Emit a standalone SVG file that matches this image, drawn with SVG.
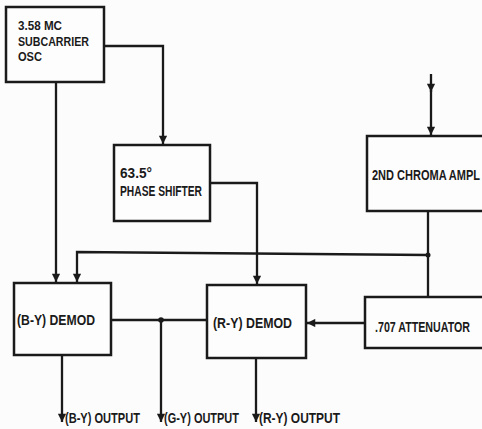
<svg xmlns="http://www.w3.org/2000/svg" width="482" height="429" viewBox="0 0 482 429">
<style>
.box{fill:#fdfdfd;stroke:#1a1a1a;stroke-width:2.5}
.ln{fill:none;stroke:#1a1a1a;stroke-width:2.3}
.t{font-family:"Liberation Sans Narrow","Liberation Sans",Arial,sans-serif;font-weight:bold;font-size:14px;fill:#1a1a1a}
.s{font-size:12.5px}
</style>
<defs>
<marker id="ah" viewBox="0 0 10 10" refX="10" refY="5" markerWidth="3.8" markerHeight="3.6" orient="auto" markerUnits="strokeWidth">
<path d="M0,0 L10,5 L0,10 z" fill="#1a1a1a"/>
</marker>
</defs>
<rect width="482" height="429" fill="#fcfcfc"/>
<g id="connectors">
<path class="ln" d="M104,46 H163 V144" marker-end="url(#ah)"/>
<path class="ln" d="M56,82 V282" marker-end="url(#ah)"/>
<path class="ln" d="M210,183 H257 V284" marker-end="url(#ah)"/>
<path class="ln" d="M428,211 V297"/>
<path class="ln" d="M428,255 L77,252 V282" marker-end="url(#ah)"/>
<circle cx="428" cy="255" r="2.5" fill="#1a1a1a"/>
<path class="ln" d="M431,74 V92" marker-end="url(#ah)"/>
<path class="ln" d="M431,90 V135" marker-end="url(#ah)"/>
<path class="ln" d="M365,323 H307" marker-end="url(#ah)"/>
<path class="ln" d="M111,320 H207"/>
<circle cx="161" cy="320" r="2.8" fill="#1a1a1a"/>
<path class="ln" d="M62,355 V422" marker-end="url(#ah)"/>
<path class="ln" d="M161,320 V422" marker-end="url(#ah)"/>
<path class="ln" d="M256,358 V422" marker-end="url(#ah)"/>
</g>
<g id="osc">
<rect class="box" x="6" y="7" width="98" height="75"/>
<text class="t s" x="18" y="30" textLength="44" lengthAdjust="spacingAndGlyphs">3.58 MC</text>
<text class="t s" x="18" y="46" textLength="71" lengthAdjust="spacingAndGlyphs">SUBCARRIER</text>
<text class="t s" x="18" y="61" textLength="24" lengthAdjust="spacingAndGlyphs">OSC</text>
</g>
<g id="phase">
<rect class="box" x="114" y="145" width="96" height="76"/>
<text class="t" x="120" y="178" textLength="32" lengthAdjust="spacingAndGlyphs">63.5°</text>
<text class="t" x="120" y="196" textLength="82" lengthAdjust="spacingAndGlyphs">PHASE SHIFTER</text>
</g>
<g id="chroma">
<rect class="box" x="367" y="136" width="120" height="75"/>
<text class="t" x="372" y="180" textLength="108" lengthAdjust="spacingAndGlyphs">2ND CHROMA AMPL</text>
</g>
<g id="bydemod">
<rect class="box" x="14" y="283" width="97" height="72"/>
<text class="t" x="17" y="325" textLength="78" lengthAdjust="spacingAndGlyphs">(B-Y) DEMOD</text>
</g>
<g id="rydemod">
<rect class="box" x="207" y="285" width="99" height="73"/>
<text class="t" x="213" y="328" textLength="79" lengthAdjust="spacingAndGlyphs">(R-Y) DEMOD</text>
</g>
<g id="atten">
<rect class="box" x="365" y="297" width="122" height="51"/>
<text class="t" x="375" y="332" textLength="95" lengthAdjust="spacingAndGlyphs">.707 ATTENUATOR</text>
</g>
<g id="outputs">
<text class="t" x="65" y="423" textLength="75" lengthAdjust="spacingAndGlyphs">(B-Y) OUTPUT</text>
<text class="t" x="164" y="423" textLength="75" lengthAdjust="spacingAndGlyphs">(G-Y) OUTPUT</text>
<text class="t" x="259" y="423" textLength="81" lengthAdjust="spacingAndGlyphs">(R-Y) OUTPUT</text>
</g>
</svg>
